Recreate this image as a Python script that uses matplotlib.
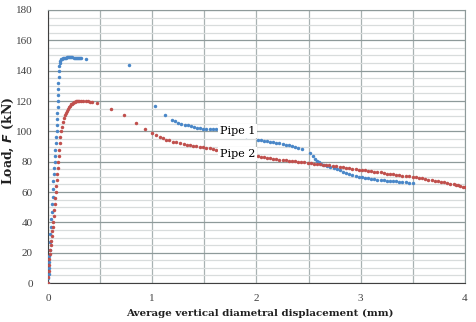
import matplotlib.pyplot as plt
import numpy as np
from matplotlib.ticker import MultipleLocator

# Pipe 1 (blue)
pipe1_x = [0, 0.002, 0.005, 0.008, 0.01, 0.013, 0.016, 0.02, 0.024, 0.028, 0.032, 0.036,
           0.04, 0.044, 0.048, 0.052, 0.056, 0.06, 0.064, 0.068, 0.072, 0.076, 0.08, 0.083,
           0.086, 0.088, 0.09, 0.092, 0.094, 0.096, 0.098, 0.1, 0.102, 0.105, 0.108, 0.112,
           0.118, 0.125, 0.135, 0.145, 0.155, 0.165, 0.175, 0.185, 0.195, 0.205, 0.215, 0.225,
           0.235, 0.245, 0.255, 0.265, 0.275, 0.285, 0.295, 0.305, 0.315, 0.36,
           0.78, 1.03, 1.12,
           1.19, 1.22, 1.25, 1.28, 1.31, 1.34, 1.37, 1.40, 1.43, 1.46, 1.49, 1.52, 1.55, 1.58,
           1.61, 1.70, 1.80, 1.90,
           2.01, 2.04, 2.07, 2.10, 2.13, 2.16, 2.19, 2.22, 2.25, 2.28, 2.31, 2.34, 2.37, 2.40,
           2.44, 2.51, 2.54, 2.56, 2.58, 2.60, 2.62, 2.65, 2.68, 2.71, 2.74, 2.77, 2.80, 2.83,
           2.86, 2.89, 2.92, 2.95, 2.98, 3.01, 3.04, 3.07, 3.10, 3.13, 3.16, 3.19, 3.22, 3.25,
           3.28, 3.31, 3.34, 3.37, 3.40, 3.43, 3.46, 3.50]
pipe1_y = [0, 3, 6, 10, 14, 18, 22, 27, 32, 37, 42, 47,
           52, 57, 62, 67, 72, 76, 80, 84, 88, 92, 96, 100,
           104, 108, 112, 116, 120, 124, 128, 132, 136, 140, 143, 145,
           146.5, 147.5, 148, 148.3, 148.5, 148.5, 148.6, 148.7, 148.7, 148.7, 148.7, 148.7,
           148.7, 148.6, 148.6, 148.6, 148.6, 148.5, 148.5, 148.5, 148.5, 148,
           144, 116.5, 110.5,
           107.5, 106.5, 105.5, 105, 104.5, 104, 103.5, 103, 102.5, 102, 101.8, 101.5, 101.5, 101.5,
           101.5, 100.5, 99, 97,
           94.3, 94, 93.7, 93.5, 93.2, 92.8, 92.5, 92.1, 91.7, 91.2, 90.8, 90.3, 89.8, 89.3,
           88.5, 86, 84, 82, 80.5, 79.5, 78.8, 78, 77.3, 76.6, 76, 75.3, 74.5, 73.5,
           72.5, 71.8, 71.2, 70.7, 70.2, 69.8, 69.4, 69, 68.7, 68.5, 68.2, 68, 67.8, 67.5,
           67.3, 67.1, 67, 66.8, 66.6, 66.4, 66.2, 66]

# Pipe 2 (red)
pipe2_x = [0, 0.003, 0.006, 0.01, 0.014, 0.018, 0.022, 0.026, 0.03, 0.035, 0.04, 0.045,
           0.05, 0.055, 0.06, 0.065, 0.07, 0.075, 0.08, 0.085, 0.09, 0.095, 0.1, 0.105,
           0.11, 0.115, 0.12, 0.125, 0.13, 0.14, 0.15, 0.16, 0.17, 0.18, 0.19, 0.2, 0.21,
           0.22, 0.23, 0.24, 0.25, 0.26, 0.27, 0.28, 0.29, 0.30, 0.32, 0.34, 0.36, 0.38,
           0.40, 0.42,
           0.47, 0.60, 0.73, 0.84, 0.93, 1.00, 1.04, 1.07, 1.10, 1.13, 1.16, 1.20, 1.23,
           1.27, 1.30, 1.33, 1.36, 1.39, 1.42, 1.46, 1.49, 1.52, 1.55, 1.58, 1.61,
           1.70, 1.80, 1.90,
           2.01, 2.04, 2.07, 2.10, 2.13, 2.16, 2.19, 2.22, 2.25, 2.28, 2.31, 2.34, 2.37, 2.40,
           2.43, 2.46, 2.49, 2.52, 2.55, 2.58, 2.61, 2.64, 2.67, 2.70, 2.73, 2.76, 2.80, 2.83,
           2.86, 2.89, 2.92, 2.95, 2.98, 3.01, 3.04, 3.07, 3.10, 3.13, 3.16, 3.19, 3.22, 3.25,
           3.28, 3.31, 3.34, 3.37, 3.40, 3.43, 3.46, 3.50, 3.53, 3.56, 3.59, 3.62, 3.65, 3.68,
           3.71, 3.74, 3.77, 3.80, 3.83, 3.86, 3.89, 3.91, 3.93, 3.95, 3.98, 4.0]
pipe2_y = [0, 4, 8, 12, 16, 19, 22, 25, 28, 31, 34, 37,
           40, 44, 48, 52, 56, 60, 64, 68, 72, 76, 80, 84,
           88, 92, 96, 100, 103, 106, 108.5, 110.5, 112, 113.5, 115, 116, 117,
           117.8, 118.3, 118.8, 119.2, 119.5, 119.7, 119.9, 120, 120, 120, 120, 119.9, 119.8,
           119.6, 119.4,
           118.6, 115, 111, 105.5, 101.5, 99, 97.5, 96, 95.3, 94.6, 94, 93, 92.7,
           92.3, 91.8, 91.3, 91, 90.6, 90.2, 89.8, 89.4, 89, 88.7, 88.3, 88,
           87, 86, 85,
           83.7, 83.4, 83, 82.7, 82.3, 82, 81.6, 81.3, 81, 80.8, 80.6, 80.4, 80.2, 80,
           79.8, 79.6, 79.3, 79, 78.7, 78.4, 78.2, 78, 77.8, 77.5, 77.2, 77, 76.5, 76.2,
           76, 75.7, 75.4, 75.1, 74.8, 74.5, 74.3, 74, 73.8, 73.5, 73.2, 72.9, 72.5, 72.2,
           72, 71.7, 71.4, 71.1, 70.8, 70.6, 70.3, 70, 69.7, 69.3, 69, 68.6, 68.2, 67.8,
           67.4, 67, 66.6, 66.3, 66, 65.6, 65.2, 64.8, 64.4, 64, 63.6, 63.3]

plt.rcParams['font.family'] = ['DejaVu Serif']

fig = plt.figure(figsize=(4.77, 3.22), dpi=100)
ax = fig.add_axes([0.1006, 0.121, 0.8742, 0.848])

blue = '#4A87C8'
red = '#C0504D'

ax.plot(pipe1_x, pipe1_y, 'o', color=blue, ms=2.5, mec='none', zorder=3)
ax.plot(pipe2_x, pipe2_y, 'o', color=red, ms=2.5, mec='none', zorder=3)

ax.text(1.65, 100, 'Pipe 1', fontsize=8, va='center', ha='left', zorder=5,
        bbox=dict(facecolor='white', edgecolor='none', pad=1.5))
ax.text(1.65, 85, 'Pipe 2', fontsize=8, va='center', ha='left', zorder=5,
        bbox=dict(facecolor='white', edgecolor='none', pad=1.5))

ax.set_xlim(0, 4)
ax.set_ylim(0, 180)
ax.set_xticks([0, 1, 2, 3, 4])
ax.set_yticks(np.arange(0, 181, 20))
ax.xaxis.set_minor_locator(MultipleLocator(0.5))
ax.yaxis.set_minor_locator(MultipleLocator(5))
ax.grid(which='major', axis='y', color='#8E9A9A', lw=0.9)
ax.grid(which='minor', axis='y', color='#D8DCDC', lw=0.9)
ax.grid(which='both', axis='x', color='#A8B2B2', lw=0.9)
ax.set_axisbelow(True)
ax.tick_params(which='both', length=0, labelsize=8, colors='#404040')
ax.tick_params(axis='x', pad=8)
ax.tick_params(axis='y', pad=11)
for lab in ax.get_xticklabels() + ax.get_yticklabels():
    lab.set_family('Liberation Serif')
    lab.set_fontsize(8)

for s in ['top', 'right']:
    ax.spines[s].set_color('#8E9A9A')
for s in ['left', 'bottom']:
    ax.spines[s].set_color('#404040')

ax.set_xlabel('Average vertical diametral displacement (mm)', fontsize=7.4, fontweight='bold',
              color='#202020')
ax.xaxis.set_label_coords(0.508, -0.095)
ax.set_ylabel('Load, $\\mathbfit{F}$ (kN)', fontsize=9, fontweight='bold', color='#202020')
ax.yaxis.set_label_coords(-0.077, 0.52)

fig.savefig('out.png', dpi=100)
